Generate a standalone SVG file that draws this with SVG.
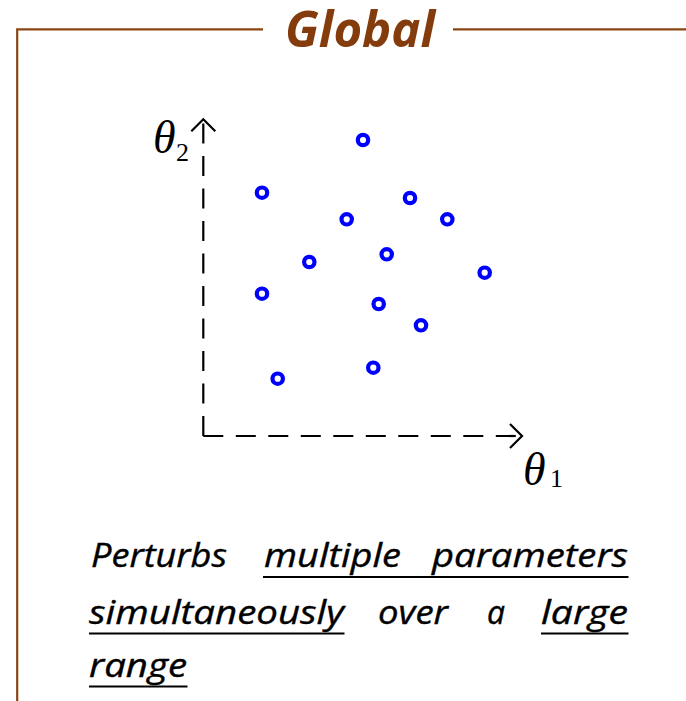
<svg xmlns="http://www.w3.org/2000/svg" width="686" height="701" viewBox="0 0 686 701">
<style>
.frame{fill:none;stroke:#8B4513;stroke-width:2.2}
.axis{fill:none;stroke:#000;stroke-width:2.2;stroke-dasharray:20 12.5}
.head{fill:none;stroke:#000;stroke-width:2.2}
.pt{fill:none;stroke:#0000FF;stroke-width:4.2}
.title{font-family:"Open Sans","Liberation Sans",sans-serif;font-weight:bold;font-style:italic;font-size:50px;fill:#843C0C}
.th{font-family:"Liberation Serif","Times New Roman",serif;font-style:italic;font-size:46px;fill:#000}
.sub{font-family:"Liberation Serif","Times New Roman",serif;font-size:26px;fill:#000}
.body{font-family:"Open Sans","Liberation Sans",sans-serif;font-style:italic;font-size:33px;fill:#000;stroke:#000;stroke-width:0.4}
.ul{stroke:#000;stroke-width:2.2}
</style>
<g id="frame">
<polyline class="frame" points="263,29.3 17.2,29.3 17.2,701"/>
<line class="frame" x1="453" y1="29.3" x2="686" y2="29.3"/>
<text class="title" x="285" y="47" textLength="150" lengthAdjust="spacingAndGlyphs">Global</text>
</g>
<g id="axes">
<line class="axis" x1="203.3" y1="436" x2="203.3" y2="121"/>
<line class="axis" x1="203.3" y1="436" x2="520" y2="436"/>
<polyline class="head" points="191.3,131.3 203.3,119.3 215.3,131.3"/>
<polyline class="head" points="510,424 522,436 510,448"/>
</g>
<g id="label-theta2">
<text class="th" x="153" y="153">θ</text>
<text class="sub" x="176" y="161">2</text>
</g>
<g id="label-theta1">
<text class="th" x="523" y="485">θ</text>
<text class="sub" x="550" y="487">1</text>
</g>
<g id="points">
<circle class="pt" cx="363" cy="140" r="5.2"/>
<circle class="pt" cx="262" cy="192.7" r="5.2"/>
<circle class="pt" cx="410" cy="198" r="5.2"/>
<circle class="pt" cx="346.7" cy="219.3" r="5.2"/>
<circle class="pt" cx="447.3" cy="219.3" r="5.2"/>
<circle class="pt" cx="309.3" cy="262" r="5.2"/>
<circle class="pt" cx="386.7" cy="254.3" r="5.2"/>
<circle class="pt" cx="484.7" cy="272.7" r="5.2"/>
<circle class="pt" cx="262" cy="293.7" r="5.2"/>
<circle class="pt" cx="378.7" cy="304" r="5.2"/>
<circle class="pt" cx="421" cy="325.3" r="5.2"/>
<circle class="pt" cx="373.3" cy="367.7" r="5.2"/>
<circle class="pt" cx="277.7" cy="378.7" r="5.2"/>
</g>
<g id="caption">
<text class="body" x="91" y="566.5" textLength="136" lengthAdjust="spacingAndGlyphs">Perturbs</text>
<text class="body" x="264" y="566.5" textLength="137" lengthAdjust="spacingAndGlyphs">multiple</text>
<text class="body" x="432" y="566.5" textLength="196" lengthAdjust="spacingAndGlyphs">parameters</text>
<text class="body" x="89" y="623.5" textLength="255" lengthAdjust="spacingAndGlyphs">simultaneously</text>
<text class="body" x="378" y="623.5" textLength="70" lengthAdjust="spacingAndGlyphs">over</text>
<text class="body" x="487" y="623.5" textLength="18" lengthAdjust="spacingAndGlyphs">a</text>
<text class="body" x="541" y="623.5" textLength="87" lengthAdjust="spacingAndGlyphs">large</text>
<text class="body" x="89" y="677" textLength="98" lengthAdjust="spacingAndGlyphs">range</text>
<line class="ul" x1="263" y1="577" x2="628.5" y2="577"/>
<line class="ul" x1="89" y1="633.5" x2="344.5" y2="633.5"/>
<line class="ul" x1="541" y1="633.5" x2="628.5" y2="633.5"/>
<line class="ul" x1="89" y1="686.5" x2="187.5" y2="686.5"/>
</g>
</svg>
